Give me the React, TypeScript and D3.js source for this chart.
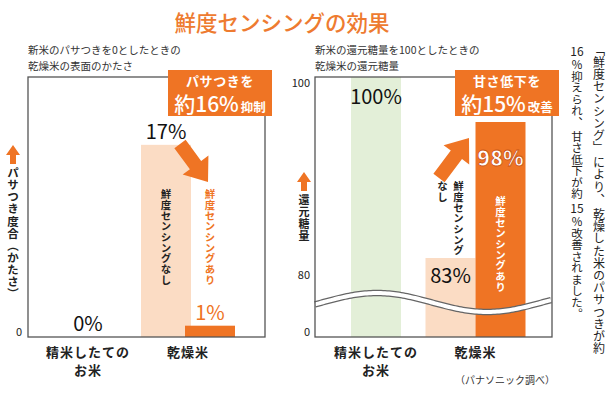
import React from 'react';
import * as d3 from 'd3';

// categories and series
const categories = ['精米したての|お米', '乾燥米'];
const seriesNames = ['新米', '鮮度センシングなし', '鮮度センシングあり'];
const seriesCategory = [0, 1, 1];
const seriesSide = [0, -1, 1];

// left: surface hardness (%), new rice = 0
const hardnessValues = [0, 17, 1];
const hardnessTicks = [0];
// right: reducing sugar (new rice = 100)
const sugarValues = [100, 83, 98];
const sugarTicks = [0, 80, 100];

const ORANGE = '#ef7424';
const PEACH = '#fbdcc4';
const GREEN = '#e3efd8';
const TITLE_ORANGE = '#ee7b30';
const FONT = "'Noto Sans CJK JP', 'Noto Sans', sans-serif";

const W = 615;
const H = 399;
const top = 77;
const bottom = 337;
const boxW = 237;

const VText = ({x, y, text, size = 11, color = '#222', weight = 700, spacing = 0}: any) => (
  <text x={x} y={y} fill={color} fontSize={size} fontWeight={weight} fontFamily={FONT}
        letterSpacing={spacing} style={{writingMode: 'vertical-rl'} as any}>{text}</text>
);

const UpArrow = ({cx, y}: any) => (
  <polygon fill={ORANGE}
           points={[[cx, y], [cx + 7, y + 10], [cx + 3, y + 10], [cx + 3, y + 19], [cx - 3, y + 19], [cx - 3, y + 10], [cx - 7, y + 10]].map(p => p.join(',')).join(' ')}/>
);

// thick block arrow from (x1,y1) to tip (x2,y2)
const BlockArrow = ({x1, y1, x2, y2, sw = 14, hw = 32, hl = 21}: any) => {
  const len = Math.hypot(x2 - x1, y2 - y1);
  const ang = Math.atan2(y2 - y1, x2 - x1) * 180 / Math.PI;
  const pts = [[0, -sw / 2], [len - hl, -sw / 2], [len - hl, -hw / 2], [len, 0], [len - hl, hw / 2], [len - hl, sw / 2], [0, sw / 2]];
  return <polygon fill={ORANGE} transform={`translate(${x1},${y1}) rotate(${ang})`}
                  points={pts.map(p => p.join(',')).join(' ')}/>;
};

const Callout = ({x, line1, big, small}: any) => (
  <g>
    <rect x={x} y={70} width={104} height={46} fill={ORANGE}/>
    <text x={x + 52} y={86} textAnchor="middle" fill="#fff" fontSize={13} fontWeight={700}
          fontFamily={FONT} letterSpacing={0.6}>{line1}</text>
    <text x={x + 52} y={112} textAnchor="middle" fill="#fff" fontFamily={FONT}>
      <tspan fontSize={21} fontWeight={500}>{big}</tspan>
      <tspan fontSize={12.5} fontWeight={700} dx={2}>{small}</tspan>
    </text>
  </g>
);

const XLabels = ({x}: any) => (
  <g>
    {categories.map(c => {
      const lines = c.split('|');
      return lines.map((l, i) => (
        <text key={c + i} x={x(c)} y={357 + i * 17.5} textAnchor="middle" fontSize={13} fontWeight={700}
              fill="#222" fontFamily={FONT} letterSpacing={1}>{l}</text>
      ));
    })}
  </g>
);

const Ticks = ({y, ticks, xr}: any) => (
  <g>
    {ticks.map((t: number) => (
      <text key={t} x={xr} y={Math.min(Math.max(y(t), top + 6), bottom - 5)} dy="0.35em" textAnchor="end"
            fontSize={11} fill="#222" fontFamily={FONT}>{t}</text>
    ))}
  </g>
);

const App = () => {
  // left chart
  const lx = 28;
  const xL = d3.scalePoint<string>().domain(categories).range([lx + 60, lx + 160]);
  const yL = d3.scaleLinear().domain([0, 23]).range([bottom, top]);
  const offL = 22;
  const barW = 50;

  // right chart (broken axis, not to scale above 80)
  const rx = 315;
  const xR = d3.scalePoint<string>().domain(categories).range([rx + 61, rx + 160.5]);
  const yR = d3.scaleLinear().domain([0, 80, 83, 98, 100]).range([bottom, 275, 258, 122, top]);
  const offR = 25;

  const leftX = (i: number) => xL(categories[seriesCategory[i]])! + seriesSide[i] * offL;
  const rightX = (i: number) => xR(categories[seriesCategory[i]])! + seriesSide[i] * offR;

  const leftColors = [GREEN, PEACH, ORANGE];
  const rightColors = [GREEN, PEACH, ORANGE];

  // wavy break line across right chart
  const waveX = d3.range(rx, rx + boxW + 1, 2);
  const wave = d3.line<number>().x(d => d).y(d => 302.5 - 9.5 * Math.cos((d - 377) / 220 * 2 * Math.PI))(waveX);

  return (
    <svg width={W} height={H} style={{position: 'absolute', left: 0, top: 0, background: '#fff'}}>
      {/* title */}
      <text x={282} y={31} textAnchor="middle" fill={TITLE_ORANGE} fontSize={21.5} fontWeight={500}
            fontFamily={FONT}>鮮度センシングの効果</text>

      {/* ---------- left chart ---------- */}
      <text x={lx} y={54} fontSize={10.5} fill="#333" fontFamily={FONT}>新米のパサつきを0としたときの</text>
      <text x={lx} y={70} fontSize={10.5} fill="#333" fontFamily={FONT}>乾燥米の表面のかたさ</text>
      {hardnessValues.map((v, i) => (
        <rect key={seriesNames[i]} x={leftX(i) - barW / 2} y={yL(v)} width={barW} height={bottom - yL(v)}
              fill={leftColors[i]}/>
      ))}
      <rect x={lx} y={top} width={boxW} height={bottom - top} fill="none" stroke="#555" strokeWidth={1.3}/>
      <Ticks y={yL} ticks={hardnessTicks} xr={22}/>
      <UpArrow cx={13} y={145}/>
      <VText x={13} y={167} text="パサつき度合（かたさ）" size={11.5} spacing={0.6}/>
      {hardnessValues.map((v, i) => (
        <text key={'lv' + i} x={leftX(i)} y={yL(v) - 6} textAnchor="middle" fontSize={20}
              fill={i === 2 ? ORANGE : '#111'} fontFamily={FONT}>{v}%</text>
      ))}
      <VText x={leftX(1)} y={189} text={seriesNames[1]} size={10.5} spacing={0.2}/>
      <VText x={leftX(2)} y={189} text={seriesNames[2]} size={10.5} spacing={0.2} color={ORANGE}/>
      <BlockArrow x1={180} y1={144} x2={208} y2={182}/>
      <XLabels x={xL}/>
      <Callout x={168} line1="パサつきを" big="約16%" small="抑制"/>

      {/* ---------- right chart ---------- */}
      <text x={rx} y={54} fontSize={10.5} fill="#333" fontFamily={FONT}>新米の還元糖量を100としたときの</text>
      <text x={rx} y={70} fontSize={10.5} fill="#333" fontFamily={FONT}>乾燥米の還元糖量</text>
      {sugarValues.map((v, i) => (
        <rect key={seriesNames[i]} x={rightX(i) - barW / 2} y={yR(v)} width={barW} height={bottom - yR(v)}
              fill={rightColors[i]}/>
      ))}
      <path d={wave!} fill="none" stroke="#666" strokeWidth={6.5}/>
      <path d={wave!} fill="none" stroke="#fff" strokeWidth={4}/>
      <rect x={rx} y={top} width={boxW} height={bottom - top} fill="none" stroke="#555" strokeWidth={1.3}/>
      <Ticks y={yR} ticks={sugarTicks} xr={310}/>
      <UpArrow cx={304} y={172}/>
      <VText x={304} y={194} text="還元糖量" size={11} spacing={1.2}/>
      <text x={rightX(0)} y={yR(sugarValues[0]) + 27} textAnchor="middle" fontSize={20} fill="#111"
            fontFamily={FONT}>{sugarValues[0]}%</text>
      <text x={rightX(1)} y={yR(sugarValues[1]) + 25} textAnchor="middle" fontSize={20} fill="#111"
            fontFamily={FONT}>{sugarValues[1]}%</text>
      <text x={rightX(2)} y={yR(sugarValues[2]) + 44} textAnchor="middle" fontSize={21} fill="#fff"
            stroke="#c95414" strokeWidth={0.8} fontWeight={900} fontFamily={FONT}>{sugarValues[2]}%</text>
      <VText x={rightX(1) + 8} y={181} text="鮮度センシング" size={10.5} spacing={0.2}/>
      <VText x={rightX(1) - 8} y={181} text="なし" size={10.5} spacing={0.2}/>
      <VText x={rightX(2)} y={196} text={seriesNames[2]} size={10.5} spacing={0.2} color="#fff"/>
      <BlockArrow x1={439} y1={178} x2={469} y2={138}/>
      <XLabels x={xR}/>
      <Callout x={455} line1="甘さ低下を" big="約15%" small="改善"/>
      <text x={555} y={384} textAnchor="end" fontSize={10} fill="#333" fontFamily={FONT}>（パナソニック調べ）</text>

      {/* ---------- side note (vertical) ---------- */}
      <VText x={599} y={44} text="「鮮度センシング」 により、 乾燥した米のパサつきが約" size={12} weight={400} spacing={0.2} color="#222"/>
      <text x={577} y={56} textAnchor="middle" fontSize={12} fill="#222" fontFamily={FONT}>16</text>
      <VText x={577} y={59} text="％抑えられ、 甘さ低下が約" size={11.5} weight={400} color="#222"/>
      <text x={577} y={213} textAnchor="middle" fontSize={12} fill="#222" fontFamily={FONT}>15</text>
      <VText x={577} y={216} text="％改善されました。" size={11.5} weight={400} color="#222"/>
    </svg>
  );
};

export default App;
